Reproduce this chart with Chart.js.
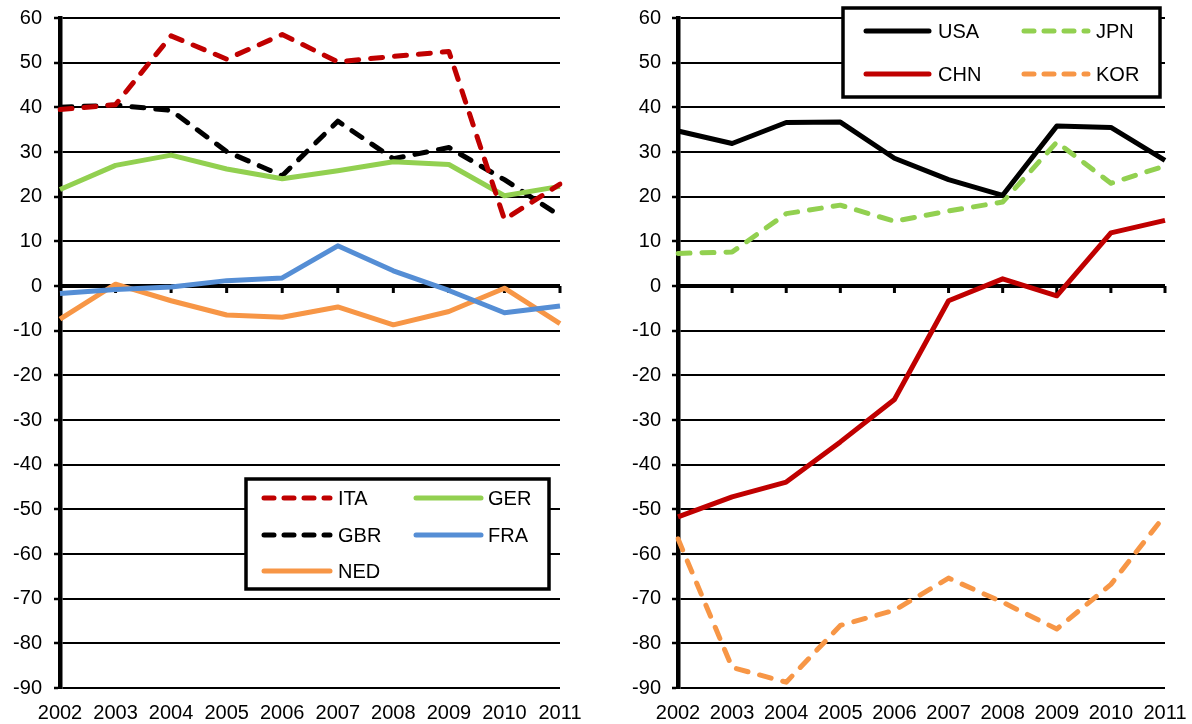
<!DOCTYPE html>
<html>
<head>
<meta charset="utf-8">
<script src="https://cdn.jsdelivr.net/npm/chart.js@4"></script>
<style>
  html, body { margin: 0; padding: 0; background: #fff; }
  #wrap { position: relative; width: 1192px; height: 724px; overflow: hidden; }
  .panel { position: absolute; top: 0; width: 596px; height: 724px; }
</style>
</head>
<body>
<div id="wrap">
  <div class="panel" style="left:0"><canvas id="left" width="596" height="724"></canvas></div>
  <div class="panel" style="left:596px"><canvas id="right" width="596" height="724"></canvas></div>
</div>
<script>
// data
const years = ["2002", "2003", "2004", "2005", "2006", "2007", "2008", "2009", "2010", "2011"];
const yMin = -90, yMax = 60, yStep = 10;

// left panel
const ita = [39.5, 40.6, 56.0, 50.8, 56.3, 50.2, 51.4, 52.5, 14.9, 22.8];
const ger = [21.6, 27.0, 29.3, 26.2, 24.0, 25.8, 27.8, 27.2, 20.2, 22.3];
const gbr = [40.0, 40.5, 39.3, 30.1, 24.7, 36.9, 28.5, 31.0, 23.8, 15.7];
const fra = [-1.7, -0.8, -0.2, 1.2, 1.8, 9.0, 3.4, -1.0, -6.0, -4.5];
const ned = [-7.4, 0.4, -3.3, -6.5, -7.0, -4.7, -8.7, -5.7, -0.5, -8.4];

// right panel
const usa = [34.7, 31.9, 36.6, 36.7, 28.6, 23.8, 20.3, 35.8, 35.5, 28.1];
const jpn = [7.3, 7.6, 16.2, 18.1, 14.5, 16.8, 18.8, 32.2, 23.0, 26.9];
const chn = [-51.7, -47.2, -43.9, -34.9, -25.4, -3.3, 1.6, -2.2, 11.9, 14.7];
const kor = [-56.6, -85.4, -88.7, -76.0, -72.6, -65.4, -70.8, -76.8, -66.8, -51.3];

Chart.defaults.font.family = '"Liberation Sans", Arial, sans-serif';
Chart.defaults.color = "#000";

function line(label, data, color, dashed) {
  return {
    label: label,
    data: data,
    borderColor: color,
    backgroundColor: color,
    borderWidth: 5,
    borderDash: dashed ? [12, 12] : [],
    legendDash: dashed ? [10, 10] : [],
    borderCapStyle: dashed ? "round" : "butt",
    borderJoinStyle: "round",
    pointRadius: 0,
    tension: 0,
    fill: false
  };
}

// thick zero line with tick marks, like the Excel category axis
const zeroAxis = {
  id: "zeroAxis",
  beforeDatasetsDraw(chart) {
    const { ctx, chartArea, scales } = chart;
    const y0 = scales.y.getPixelForValue(0);
    ctx.save();
    ctx.strokeStyle = "#000";
    ctx.lineWidth = 4;
    ctx.beginPath();
    ctx.moveTo(chartArea.left, y0);
    ctx.lineTo(chartArea.right, y0);
    ctx.stroke();
    ctx.lineWidth = 3;
    scales.x.ticks.forEach(function (t, i) {
      const x = scales.x.getPixelForTick(i);
      ctx.beginPath();
      ctx.moveTo(x, y0);
      ctx.lineTo(x, y0 + 7);
      ctx.stroke();
    });
    ctx.restore();
  }
};

// boxed two-column legend
const boxLegend = {
  id: "boxLegend",
  afterDraw(chart, args, opts) {
    const ctx = chart.ctx;
    const b = opts.box;
    ctx.save();
    ctx.fillStyle = "#fff";
    ctx.fillRect(b[0], b[1], b[2], b[3]);
    ctx.strokeStyle = "#000";
    ctx.lineWidth = 3.5;
    ctx.strokeRect(b[0], b[1], b[2], b[3]);
    ctx.font = '20px "Liberation Sans", Arial, sans-serif';
    ctx.textBaseline = "middle";
    chart.data.datasets.forEach(function (ds, i) {
      const col = opts.cols[i % 2];
      const y = opts.rows[Math.floor(i / 2)];
      ctx.strokeStyle = ds.borderColor;
      ctx.lineWidth = 5;
      ctx.lineCap = "round";
      ctx.setLineDash(ds.legendDash);
      ctx.beginPath();
      ctx.moveTo(col[0], y);
      ctx.lineTo(col[1], y);
      ctx.stroke();
      ctx.setLineDash([]);
      ctx.fillStyle = "#000";
      ctx.fillText(ds.label, col[2], y + 1);
    });
    ctx.restore();
  }
};

function options(yWidth, padRight, labelPad, legendCfg) {
  return {
    responsive: false,
    animation: false,
    layout: { padding: { top: 18, right: padRight, bottom: 0, left: 0 } },
    plugins: {
      legend: { display: false },
      tooltip: { enabled: false },
      boxLegend: legendCfg
    },
    scales: {
      x: {
        grid: { display: false, drawTicks: false },
        border: { display: false },
        ticks: { color: "#000", font: { size: 20 }, padding: 13, maxRotation: 0, autoSkip: false },
        afterFit: function (s) { s.height = 36; s.paddingLeft = 0; s.paddingRight = 0; }
      },
      y: {
        min: yMin,
        max: yMax,
        grid: { color: "#000", lineWidth: 2, tickLength: 6, tickColor: "#000", tickWidth: 2.5 },
        border: { color: "#000", width: 4.5 },
        ticks: { stepSize: yStep, color: "#000", font: { size: 20 }, padding: labelPad },
        afterFit: function (s) { s.width = yWidth; s.paddingTop = 0; s.paddingBottom = 0; }
      }
    }
  };
}

new Chart(document.getElementById("left").getContext("2d"), {
  type: "line",
  data: {
    labels: years,
    datasets: [
      line("ITA", ita, "#C00000", true),
      line("GER", ger, "#92D050", false),
      line("GBR", gbr, "#000000", true),
      line("FRA", fra, "#558ED5", false),
      line("NED", ned, "#F79646", false)
    ]
  },
  options: options(60, 36, 12, {
    box: [246, 479, 303, 110],
    cols: [[264, 330, 338], [416, 481, 488]],
    rows: [498, 535, 571]
  }),
  plugins: [zeroAxis, boxLegend]
});

new Chart(document.getElementById("right").getContext("2d"), {
  type: "line",
  data: {
    labels: years,
    datasets: [
      line("USA", usa, "#000000", false),
      line("JPN", jpn, "#92D050", true),
      line("CHN", chn, "#C00000", false),
      line("KOR", kor, "#F79646", true)
    ]
  },
  options: options(82, 27, 11, {
    box: [247, 8, 317, 89],
    cols: [[270, 333, 342], [428, 492, 500]],
    rows: [31, 74]
  }),
  plugins: [zeroAxis, boxLegend]
});
</script>
</body>
</html>
